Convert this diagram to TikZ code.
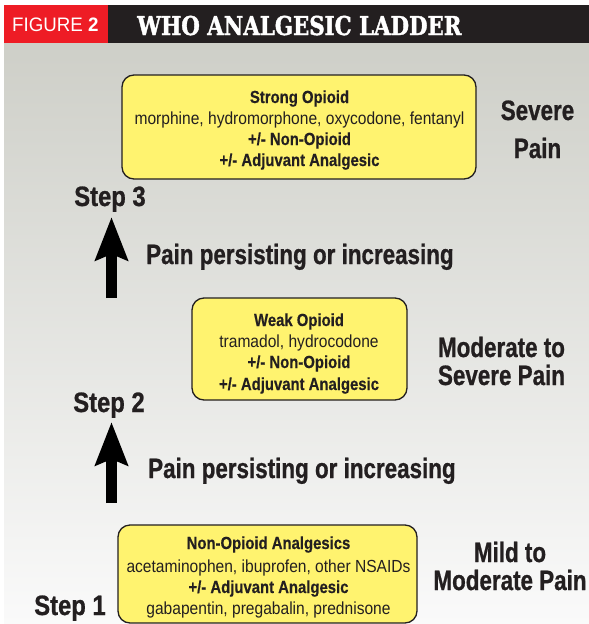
\documentclass[tikz,border=0pt]{standalone}
\usepackage{fontspec}
\usetikzlibrary{arrows.meta}
\newfontfamily\condfont{Liberation Sans}[FakeStretch=0.8, BoldFeatures={FakeBold=0.8}]
\newfontfamily\stepfont{Liberation Sans}[FakeStretch=0.85, BoldFeatures={FakeBold=0.8}]
\newfontfamily\boxfont{Liberation Sans}[FakeStretch=0.89, BoldFeatures={FakeStretch=0.85, FakeBold=0.4}]
\newfontfamily\figfont{Liberation Sans}[FakeStretch=0.96]
\newfontfamily\slabfont{DejaVu Serif}[FakeStretch=0.82, BoldFeatures={FakeBold=1.5}]
\definecolor{figred}{HTML}{EE1C25}
\definecolor{figdark}{HTML}{231F20}
\definecolor{bgtop}{HTML}{CECFC8}
\definecolor{bgbot}{HTML}{FAFAFA}
\definecolor{boxyellow}{HTML}{FFF36F}
\definecolor{inkdark}{HTML}{231F20}
\tikzset{
  drugbox/.style={draw=inkdark, line width=1.3pt, fill=boxyellow, rounded corners=12pt, inner sep=0pt},
  drugtext/.style={anchor=base, text=inkdark, font=\boxfont\fontsize{17.5}{21}\selectfont, inner sep=0pt},
  steplabel/.style={anchor=base, text=inkdark, font=\stepfont\bfseries\fontsize{28}{30}\selectfont, inner sep=0pt},
  painlabel/.style={anchor=base, text=inkdark, font=\condfont\bfseries\fontsize{28}{30}\selectfont, inner sep=0pt},
  persist/.style={anchor=base west, text=inkdark, font=\condfont\bfseries\fontsize{28}{30}\selectfont, inner sep=0pt},
  uparrow/.style={draw=black, line width=11pt, -{Stealth[width=32pt,length=43pt,inset=6pt]}}
}
\begin{document}
\begin{tikzpicture}[x=1pt,y=-1pt]
\useasboundingbox (0,0) rectangle (589,624);
% background
\shade[top color=bgtop, bottom color=bgbot] (4,43) rectangle (589,624);
% header
\fill[figdark] (108,5) rectangle (589,43);
\fill[figred] (4,5) rectangle (108,43);
\node[anchor=base west, text=white, inner sep=0pt, font=\figfont\fontsize{19.5}{20}\selectfont] (fig) at (12,31.5) {FIGURE \textbf{2}};
\node[anchor=base west, text=white, inner sep=0pt, font=\slabfont\bfseries\fontsize{26}{28}\selectfont] (title) at (137,35) {WHO ANALGESIC LADDER};
% step 3 box
\node[drugbox, minimum width=354pt, minimum height=104pt] (b3) at (299,127) {};
\node[drugtext] (t3a) at (299.5,103) {\textbf{Strong Opioid}};
\node[drugtext] (t3b) at (299.5,124) {morphine, hydromorphone, oxycodone, fentanyl};
\node[drugtext] (t3c) at (299.5,145) {\textbf{+/- Non-Opioid}};
\node[drugtext] (t3d) at (299.5,166) {\textbf{+/- Adjuvant Analgesic}};
% step 2 box
\node[drugbox, minimum width=215pt, minimum height=102pt] (b2) at (299.5,349) {};
\node[drugtext] (t2a) at (299,326) {\textbf{Weak Opioid}};
\node[drugtext] (t2b) at (299,347) {tramadol, hydrocodone};
\node[drugtext] (t2c) at (299,368) {\textbf{+/- Non-Opioid}};
\node[drugtext] (t2d) at (299,390) {\textbf{+/- Adjuvant Analgesic}};
% step 1 box
\node[drugbox, minimum width=299pt, minimum height=98pt] (b1) at (267.5,574) {};
\node[drugtext] (t1a) at (268.5,549) {\textbf{Non-Opioid Analgesics}};
\node[drugtext] (t1b) at (268.5,572) {acetaminophen, ibuprofen, other NSAIDs};
\node[drugtext] (t1c) at (268.5,593) {\textbf{+/- Adjuvant Analgesic}};
\node[drugtext] (t1d) at (268.5,614) {gabapentin, pregabalin, prednisone};
% pain labels
\node[painlabel] (p3a) at (537.5,120) {Severe};
\node[painlabel] (p3b) at (537.5,158) {Pain};
\node[painlabel] (p2a) at (501.5,357) {Moderate to};
\node[painlabel] (p2b) at (501.5,385) {Severe Pain};
\node[painlabel] (p1a) at (510,562) {Mild to};
\node[painlabel] (p1b) at (510,590) {Moderate Pain};
% steps
\node[steplabel] (s3) at (110,206) {Step 3};
\node[steplabel] (s2) at (109,412) {Step 2};
\node[steplabel] (s1) at (70,615) {Step 1};
% arrows
\coordinate (a3base) at (111.5,298);
\coordinate (a3tip) at (111.5,217);
\draw[uparrow] (a3base) -- (a3tip);
\coordinate (a2base) at (111.5,503);
\coordinate (a2tip) at (111.5,422);
\draw[uparrow] (a2base) -- (a2tip);
\node[persist] (r3) at (146,264) {Pain persisting or increasing};
\node[persist] (r2) at (148,478) {Pain persisting or increasing};
\end{tikzpicture}
\end{document}
